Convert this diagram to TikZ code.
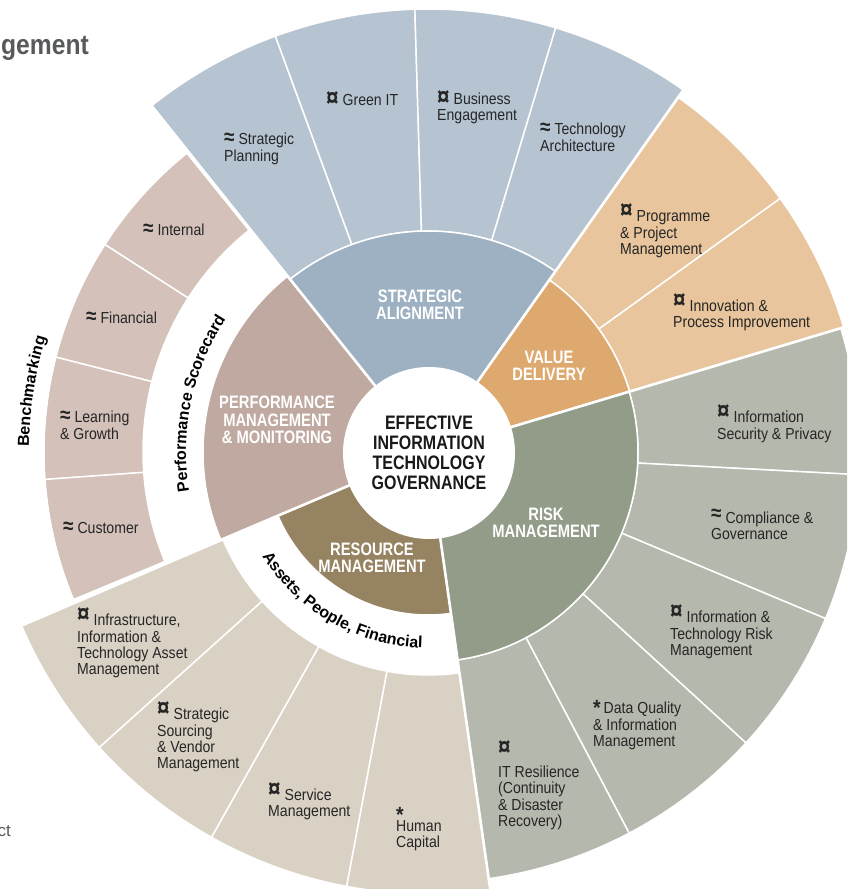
\documentclass[tikz,border=0pt]{standalone}
\usepackage{fontspec}
\setmainfont{Liberation Sans}
\newfontfamily\condf{Liberation Sans}[FakeStretch=0.88]
\newfontfamily\bcondf{Liberation Sans}[FakeStretch=0.82]
\usetikzlibrary{calc,decorations.text}
\definecolor{ringblue}{HTML}{B5C4D0}
\definecolor{secblue}{HTML}{9EB1C2}
\definecolor{ringorange}{HTML}{E8C59C}
\definecolor{secorange}{HTML}{DEA96F}
\definecolor{ringrisk}{HTML}{B5B8AD}
\definecolor{secrisk}{HTML}{929C89}
\definecolor{ringbeige}{HTML}{D9D1C3}
\definecolor{secres}{HTML}{968361}
\definecolor{ringpink}{HTML}{D3C1BA}
\definecolor{secpm}{HTML}{BFA9A0}
\definecolor{labtxt}{HTML}{262626}
\definecolor{titlegray}{HTML}{58595B}
\newcommand\lb[1]{\begin{tabular}[t]{@{}l@{}}#1\end{tabular}}
\newcommand\cur{\raisebox{-0.5pt}{\scalebox{1.6}{\textbf{¤}}}}
\newcommand\rcur{\raisebox{3pt}{\scalebox{1.6}{\textbf{¤}}}}
\newcommand\apx{\scalebox{1.35}{\textbf{≈}}}
\newcommand\rapx{\raisebox{3.5pt}{\scalebox{1.35}{\textbf{≈}}}}
\newcommand\bast{{\fontsize{22}{16}\selectfont\bfseries *}}
\newcommand\arcfont{\bfseries\fontsize{16}{16}\selectfont}
\newcommand\segm[5]{\filldraw[segline, fill=#1] ($(C)+(#2:#4pt)$) arc[start angle=#2, end angle=#3, radius=#4pt] -- ($(C)+(#3:#5pt)$) arc[start angle=#3, end angle=#2, radius=#5pt] -- cycle;}
\newcommand\wedgeseg[4]{\filldraw[segline, fill=#1] (C) -- ($(C)+(#2:#4pt)$) arc[start angle=#2, end angle=#3, radius=#4pt] -- cycle;}
\tikzset{
  segline/.style={draw=white, line width=1.5pt},
  grpline/.style={draw=white, line width=2.6pt},
  lab/.style={anchor=base west, inner sep=0pt, font=\condf\fontsize{16}{16}\selectfont, text=labtxt},
  inlab/.style={align=center, inner sep=0pt, text=white, font=\bcondf\bfseries\fontsize{18}{17.5}\selectfont},
}
\begin{document}
\begin{tikzpicture}[x=1pt, y=1pt]
\useasboundingbox (0,0) rectangle (847,889);
\fill[white] (0,0) rectangle (847,889);
\clip (0,0) rectangle (847,889);
\coordinate (C) at (428,437);

% outer ring: strategic alignment (blue)
\segm{ringblue}{128.6}{110.15}{221}{443}
\segm{ringblue}{110.15}{91.7}{221}{443}
\segm{ringblue}{91.7}{73.25}{221}{443}
\segm{ringblue}{73.25}{54.8}{221}{443}
% value delivery (orange)
\segm{ringorange}{54.8}{35.75}{210.5}{434}
\segm{ringorange}{35.75}{16.7}{210.5}{434}
% risk (grey green)
\segm{ringrisk}{16.7}{-3.02}{210}{431}
\segm{ringrisk}{-3.02}{-22.74}{210}{431}
\segm{ringrisk}{-22.74}{-42.46}{210}{431}
\segm{ringrisk}{-42.46}{-62.18}{210}{431}
\segm{ringrisk}{-62.18}{-81.9}{210}{431}
% resource (beige)
\segm{ringbeige}{-81.9}{-100.62}{223}{442}
\segm{ringbeige}{-100.62}{-119.34}{223}{442}
\segm{ringbeige}{-119.34}{-138.06}{223}{442}
\segm{ringbeige}{-138.06}{-156.8}{223}{442}
% performance (pink)
\segm{ringpink}{128.9}{147.3}{285}{384}
\segm{ringpink}{147.3}{165.7}{285}{384}
\segm{ringpink}{165.7}{184.1}{285}{384}
\segm{ringpink}{184.1}{202.6}{285}{384}

% inner sectors
\wedgeseg{secblue}{54.8}{128.6}{221}
\wedgeseg{secorange}{16.7}{54.8}{210.5}
\wedgeseg{secrisk}{-81.9}{16.7}{210}
\wedgeseg{secres}{-157}{-81.9}{163}
\wedgeseg{secpm}{128.6}{203}{225}

% group separators
\foreach \a/\r in {128.6/445, 54.8/445, 16.7/440, -81.9/445, -157/445}
  \draw[grpline] (C) -- ($(C)+(\a:\r pt)$);

% hub
\node[circle, fill=white, minimum size=172pt, inner sep=0pt, align=center,
      text=black!90, font=\bcondf\bfseries\fontsize{19.5}{20}\selectfont]
      (hub) at (429,436) {EFFECTIVE\\INFORMATION\\TECHNOLOGY\\GOVERNANCE};

% inner labels
\node[inlab] (sa) at (420,584) {STRATEGIC\\ALIGNMENT};
\node[inlab] (vd) at (549,523) {VALUE\\DELIVERY};
\node[inlab] (rm) at (546,366) {RISK\\MANAGEMENT};
\node[inlab] (res) at (372,331) {RESOURCE\\MANAGEMENT};
\node[inlab] (pm) at (277,469) {PERFORMANCE\\MANAGEMENT\\\& MONITORING};

% outer labels
\node[lab] (sp) at (224,744) {\lb{\apx\ Strategic\\Planning}};
\node[lab] (git) at (326,783) {\lb{\cur\ Green IT}};
\node[lab] (be) at (437,784) {\lb{\cur\ Business\\Engagement}};
\node[lab] (ta) at (540,754) {\lb{\apx\ Technology\\Architecture}};
\node[lab] (ppm) at (620,667) {\lb{\rcur\ Programme\\\& Project\\Management}};
\node[lab] (ipi) at (673,577) {\lb{\rcur\ Innovation \&\\Process Improvement}};
\node[lab] (isp) at (717,466) {\lb{\rcur\ Information\\Security \& Privacy}};
\node[lab] (cg) at (711,365) {\lb{\rapx\ Compliance \&\\Governance}};
\node[lab] (itr) at (670,266) {\lb{\rcur\ Information \&\\Technology Risk\\Management}};
\node[lab] (dq) at (593,175) {\lb{\raisebox{-2pt}{\bast}\hspace{3pt}Data Quality\\\& Information\\Management}};
\node[lab] (itres) at (498,134) {\lb{\cur\\[6pt]IT Resilience\\(Continuity\\\& Disaster\\Recovery)}};
\node[lab] (hc) at (396,66) {\lb{\bast\\[-7.5pt]Human\\Capital}};
\node[lab] (sm) at (268,88) {\lb{\rcur\ Service\\Management}};
\node[lab] (ssv) at (157,169) {\lb{\rcur\ Strategic\\Sourcing\\\& Vendor\\Management}};
\node[lab] (iita) at (77,263) {\lb{\rcur\ Infrastructure,\\Information \&\\Technology Asset\\Management}};
\node[lab] (int) at (143,653) {\lb{\apx\ Internal}};
\node[lab] (fin) at (86,565) {\lb{\apx\ Financial}};
\node[lab] (lg) at (60,466) {\lb{\apx\ Learning\\\& Growth}};
\node[lab] (cus) at (63,355) {\lb{\apx\ Customer}};

% curved ring captions
\path[decorate, decoration={text along path, text align=center,
      text={|\arcfont|Performance Scorecard}}]
  ($(C)+(190:242pt)$) arc[start angle=190, end angle=146, radius=242pt];
\path[decorate, decoration={text along path, text align=center,
      text={|\arcfont|Benchmarking}}]
  ($(C)+(185:399pt)$) arc[start angle=185, end angle=157.6, radius=399pt];
\path[decorate, decoration={text along path, text align=center,
      text={|\arcfont|Assets, People, Financial}}]
  ($(C)+(-150:196pt)$) arc[start angle=-150, end angle=-89.5, radius=196pt];

% clipped page fragments
\node[anchor=base east, inner sep=0pt, text=titlegray,
      font=\condf\bfseries\fontsize{28}{28}\selectfont] (title) at (89,834) {gement};
\node[anchor=base east, inner sep=0pt, text=titlegray,
      font=\fontsize{17}{17}\selectfont] (frag) at (11,52) {ct};
\end{tikzpicture}
\end{document}
